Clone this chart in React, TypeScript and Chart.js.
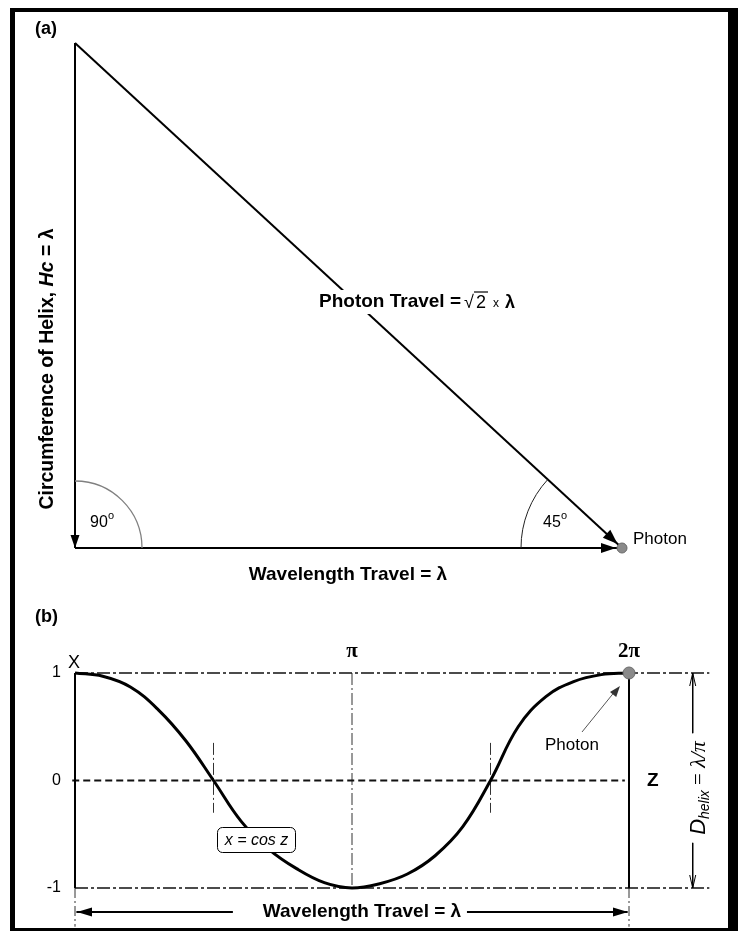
import React, { useEffect, useRef } from "react";
import { Chart, registerables } from "chart.js";

Chart.register(...registerables);

const CANVAS_W = 738;
const CANVAS_H = 931;
const SANS = '"Liberation Sans", Arial, sans-serif';
const SERIF = '"Liberation Serif", "Times New Roman", serif';

// ---------- Panel (a): right triangle, units of wavelength λ ----------
const sideX = [0, 0]; // circumference of helix (vertical side)
const sideY = [1, 0];
const baseX = [0, 1]; // wavelength travel
const baseY = [0, 0];
const hypX = [0, 1]; // photon travel (hypotenuse)
const hypY = [1, 0];
const photonAX = [1];
const photonAY = [0];

// ---------- Panel (b): x = cos z, z in units of π ----------
const zValues = [0, 0.1, 0.2, 0.3, 0.4, 0.5, 0.6, 0.7, 0.8, 0.9, 1, 1.1, 1.2, 1.3, 1.4, 1.5, 1.6, 1.7, 1.8, 1.9, 2];
const xValues = [
  1, 0.97, 0.87, 0.66, 0.37, 0, -0.38, -0.64, -0.82, -0.95, -1,
  -0.96, -0.87, -0.7, -0.43, 0, 0.5, 0.78, 0.92, 0.985, 1,
];
const yTickValues = [1, 0, -1];
const yTickLabels = ["1", "0", "-1"];
const zTickValues = [1, 2];
const zTickLabels = ["π", "2π"];
const photonBX = [2];
const photonBY = [1];

// reference / construction lines of panel (b)
const topRefX = [0, 2.29];
const topRefY = [1, 1];
const zeroRefX = [-0.01, 1.985];
const zeroRefY = [0, 0];
const botRefX = [0, 2.29];
const botRefY = [-1, -1];
const piLineX = [1, 1];
const piLineY = [1, -1];
const quarter1X = [0.5, 0.5];
const quarter2X = [1.5, 1.5];
const quarterY = [0.35, -0.3];
const leftWallX = [0, 0];
const rightWallX = [2, 2];
const wallY = [1, -1];
const extY = [-1, -1.36];
const dimX = [2.23, 2.23];
const dimTopY = [1, 0.44];
const dimBotY = [-0.58, -1];
const waveArrowY = [-1.223, -1.223];
const waveLeftX = [0.005, 0.57];
const waveRightX = [1.415, 1.995];

const pts = (xs: number[], ys: number[]) => xs.map((x, i) => ({ x, y: ys[i] }));

function lineDs(xs: number[], ys: number[], opts: any = {}) {
  return {
    data: pts(xs, ys),
    showLine: true,
    pointRadius: 0,
    borderColor: "#000",
    borderWidth: 2,
    clip: false as any,
    ...opts,
  };
}

function txt(
  ctx: CanvasRenderingContext2D,
  s: string,
  x: number,
  y: number,
  font: string,
  align: CanvasTextAlign = "left",
  baseline: CanvasTextBaseline = "middle",
  color = "#000"
) {
  ctx.save();
  ctx.font = font;
  ctx.textAlign = align;
  ctx.textBaseline = baseline;
  ctx.fillStyle = color;
  ctx.fillText(s, x, y);
  ctx.restore();
}

function arrowHead(
  ctx: CanvasRenderingContext2D,
  tipX: number,
  tipY: number,
  angle: number,
  len: number,
  half: number,
  color = "#000"
) {
  ctx.save();
  ctx.translate(tipX, tipY);
  ctx.rotate(angle);
  ctx.beginPath();
  ctx.moveTo(0, 0);
  ctx.lineTo(-len, -half);
  ctx.lineTo(-len, half);
  ctx.closePath();
  ctx.fillStyle = color;
  ctx.fill();
  ctx.restore();
}

function openArrow(
  ctx: CanvasRenderingContext2D,
  tipX: number,
  tipY: number,
  angle: number,
  len: number,
  half: number
) {
  ctx.save();
  ctx.translate(tipX, tipY);
  ctx.rotate(angle);
  ctx.beginPath();
  ctx.moveTo(-len, -half);
  ctx.lineTo(0, 0);
  ctx.lineTo(-len, half);
  ctx.strokeStyle = "#000";
  ctx.lineWidth = 1;
  ctx.stroke();
  ctx.restore();
}

const panelAPlugin = {
  id: "panelA",
  beforeDraw(chart: any) {
    const ctx = chart.ctx as CanvasRenderingContext2D;
    ctx.save();
    ctx.fillStyle = "#fff";
    ctx.fillRect(0, 0, chart.width, chart.height);
    ctx.restore();
  },
  afterDatasetsDraw(chart: any) {
    const ctx = chart.ctx as CanvasRenderingContext2D;
    const xs = chart.scales.x;
    const ys = chart.scales.y;
    const px = (v: number) => xs.getPixelForValue(v);
    const py = (v: number) => ys.getPixelForValue(v);
    const x0 = px(0), y0 = py(0), x1 = px(1), y1 = py(1);

    // angle arcs
    ctx.save();
    ctx.strokeStyle = "#808080";
    ctx.lineWidth = 1.3;
    ctx.beginPath();
    ctx.arc(x0, y0, 67, -Math.PI / 2, 0);
    ctx.stroke();
    const hypTilt = Math.atan2(y0 - y1, x1 - x0); // slope angle of hypotenuse
    ctx.strokeStyle = "#222";
    ctx.lineWidth = 1;
    ctx.beginPath();
    ctx.arc(x1, y0, 101, Math.PI, Math.PI + hypTilt);
    ctx.stroke();
    ctx.restore();

    // arrowheads
    arrowHead(ctx, x0, y0, Math.PI / 2, 13, 4.5);
    arrowHead(ctx, x1 - 6, y0, 0, 15, 5);
    arrowHead(ctx, x1 - 6 * Math.cos(hypTilt), y0 - 6 * Math.sin(hypTilt), hypTilt, 15, 5.5);

    // labels
    txt(ctx, "(a)", 35, 29, `bold 18px ${SANS}`);
    txt(ctx, "90", 90, 523, `16px ${SANS}`);
    txt(ctx, "o", 108, 516, `11px ${SANS}`);
    txt(ctx, "45", 543, 523, `16px ${SANS}`);
    txt(ctx, "o", 561, 516, `11px ${SANS}`);
    txt(ctx, "Photon", 633, 539, `17px ${SANS}`);
    txt(ctx, "Wavelength Travel = λ", 348, 575, `bold 19px ${SANS}`, "center");

    // photon travel label (white-backed, interrupting the hypotenuse)
    ctx.save();
    const ly = 302;
    ctx.font = `bold 19px ${SANS}`;
    const part1 = "Photon Travel =";
    const w1 = ctx.measureText(part1).width;
    const startX = 461 - w1;
    ctx.fillStyle = "#fff";
    ctx.fillRect(startX - 3, ly - 12, 461 - startX + 60, 24);
    txt(ctx, part1, startX, ly, `bold 19px ${SANS}`);
    txt(ctx, "√", 464, ly + 1, `18px ${SANS}`);
    txt(ctx, "2", 476, ly + 1, `18px ${SANS}`);
    ctx.strokeStyle = "#000";
    ctx.lineWidth = 1.2;
    ctx.beginPath();
    ctx.moveTo(474, ly - 10);
    ctx.lineTo(488, ly - 10);
    ctx.stroke();
    txt(ctx, "x", 493, ly + 2, `12px ${SANS}`);
    txt(ctx, "λ", 505, ly + 1, `bold 18px ${SANS}`);
    ctx.restore();

    // y label (rotated)
    ctx.save();
    ctx.translate(48, 369);
    ctx.rotate(-Math.PI / 2);
    const fB = `bold 19.5px ${SANS}`;
    const fBI = `italic bold 19.5px ${SANS}`;
    const parts: [string, string][] = [
      ["Circumference of Helix, ", fB],
      ["Hc", fBI],
      [" = λ", fB],
    ];
    let total = 0;
    parts.forEach(([s, f]) => {
      ctx.font = f;
      total += ctx.measureText(s).width;
    });
    let cx = -total / 2;
    parts.forEach(([s, f]) => {
      ctx.font = f;
      ctx.textBaseline = "middle";
      ctx.fillStyle = "#000";
      ctx.fillText(s, cx, 0);
      cx += ctx.measureText(s).width;
    });
    ctx.restore();
  },
  afterDraw(chart: any) {
    const ctx = chart.ctx as CanvasRenderingContext2D;
    ctx.save();
    ctx.fillStyle = "#000";
    ctx.fillRect(10, 8, 5, 923);
    ctx.fillRect(10, 8, 728, 4);
    ctx.fillRect(728, 8, 10, 923);
    ctx.fillRect(10, 928, 728, 3);
    ctx.restore();
  },
};

const panelBPlugin = {
  id: "panelB",
  afterDatasetsDraw(chart: any) {
    const ctx = chart.ctx as CanvasRenderingContext2D;
    const xs = chart.scales.x;
    const ys = chart.scales.y;
    const px = (v: number) => xs.getPixelForValue(v);
    const py = (v: number) => ys.getPixelForValue(v);

    txt(ctx, "(b)", 35, 617, `bold 18px ${SANS}`);
    txt(ctx, "X", px(0) - 1, py(1) - 5, `18px ${SANS}`, "center", "alphabetic");
    yTickValues.forEach((v, i) => txt(ctx, yTickLabels[i], 61, py(v), `16px ${SANS}`, "right"));
    zTickValues.forEach((v, i) => txt(ctx, zTickLabels[i], px(v), 652, `bold 21px ${SERIF}`, "center"));
    txt(ctx, "Z", px(2) + 18, py(0), `bold 19px ${SANS}`);

    // photon callout
    txt(ctx, "Photon", 545, 745, `17px ${SANS}`);
    ctx.save();
    ctx.strokeStyle = "#555";
    ctx.lineWidth = 1;
    ctx.beginPath();
    ctx.moveTo(582, 732);
    ctx.lineTo(616, 690);
    ctx.stroke();
    ctx.restore();
    arrowHead(ctx, px(2) - 9, py(1) + 13, Math.atan2(690 - 732, 616 - 582), 11, 4, "#333");

    // x = cos z box
    ctx.save();
    ctx.beginPath();
    (ctx as any).roundRect(217.5, 827.5, 78, 25, 5);
    ctx.fillStyle = "#fff";
    ctx.fill();
    ctx.strokeStyle = "#000";
    ctx.lineWidth = 1;
    ctx.stroke();
    ctx.restore();
    txt(ctx, "x = cos z", 256.5, 840.5, `italic 16px ${SANS}`, "center");

    // wavelength arrows
    const wy = py(waveArrowY[0]);
    arrowHead(ctx, px(0) + 2, wy, Math.PI, 15, 4.5);
    arrowHead(ctx, px(2) - 1, wy, 0, 15, 4.5);
    txt(ctx, "Wavelength Travel = λ", 362, wy, `bold 19px ${SANS}`, "center");

    // dimension D_helix
    const dx = px(dimX[0]);
    openArrow(ctx, dx, py(1), -Math.PI / 2, 13, 3);
    openArrow(ctx, dx, py(-1), Math.PI / 2, 13, 3);
    ctx.save();
    ctx.translate(dx + 5, 788);
    ctx.rotate(-Math.PI / 2);
    ctx.fillStyle = "#000";
    ctx.textBaseline = "alphabetic";
    const segs: [string, string, number][] = [
      ["D", `italic 22px ${SANS}`, 0],
      ["helix", `italic 14px ${SANS}`, 4],
      [" = ", `21px ${SERIF}`, 0],
      ["λ/π", `italic 22px ${SERIF}`, 0],
    ];
    let tw = 0;
    segs.forEach(([s, f]) => {
      ctx.font = f;
      tw += ctx.measureText(s).width;
    });
    let sx = -tw / 2;
    segs.forEach(([s, f, dy]) => {
      ctx.font = f;
      ctx.fillText(s, sx, 7 + dy);
      sx += ctx.measureText(s).width;
    });
    ctx.restore();
  },
};

const DASHDOT = [13, 3, 3, 3];

export default function App() {
  const aRef = useRef<HTMLCanvasElement>(null);
  const bRef = useRef<HTMLCanvasElement>(null);

  useEffect(() => {
    const common = (padding: any, xmin: number, xmax: number, ymin: number, ymax: number) => ({
      responsive: false,
      animation: false as const,
      events: [] as any,
      layout: { padding },
      scales: {
        x: { type: "linear" as const, min: xmin, max: xmax, display: false },
        y: { type: "linear" as const, min: ymin, max: ymax, display: false },
      },
      plugins: { legend: { display: false }, tooltip: { enabled: false } },
    });

    const chartA = new Chart(aRef.current!, {
      type: "scatter",
      data: {
        datasets: [
          {
            data: pts(photonAX, photonAY),
            pointRadius: 5,
            pointBackgroundColor: "#8a8a8a",
            pointBorderColor: "#6a6a6a",
            pointBorderWidth: 1,
            clip: false as any,
            order: 0,
          },
          lineDs(sideX, sideY, { order: 1 }),
          lineDs(baseX, baseY, { order: 1 }),
          lineDs(hypX, hypY, { order: 1 }),
        ] as any,
      },
      options: common({ left: 75, top: 43, right: 116, bottom: 383 }, 0, 1, 0, 1) as any,
      plugins: [panelAPlugin],
    });

    const chartB = new Chart(bRef.current!, {
      type: "scatter",
      data: {
        datasets: [
          {
            data: pts(photonBX, photonBY),
            pointRadius: 6,
            pointBackgroundColor: "#8a8a8a",
            pointBorderColor: "#6a6a6a",
            pointBorderWidth: 1,
            clip: false as any,
            order: 0,
          },
          lineDs(zValues, xValues, { borderWidth: 3, tension: 0.4, order: 1 }),
          lineDs(leftWallX, wallY, { order: 2 }),
          lineDs(rightWallX, wallY, { order: 2 }),
          lineDs(topRefX, topRefY, { borderWidth: 1.6, borderDash: DASHDOT, borderColor: "#111", order: 3 }),
          lineDs(botRefX, botRefY, { borderWidth: 1.6, borderDash: DASHDOT, borderColor: "#111", order: 3 }),
          lineDs(zeroRefX, zeroRefY, { borderWidth: 1.8, borderDash: [7, 4], borderColor: "#111", order: 3 }),
          lineDs(piLineX, piLineY, { borderWidth: 1, borderDash: [12, 3, 2, 3], borderColor: "#333", order: 3 }),
          lineDs(quarter1X, quarterY, { borderWidth: 1, borderDash: [12, 3, 2, 3], borderColor: "#333", order: 3 }),
          lineDs(quarter2X, quarterY, { borderWidth: 1, borderDash: [12, 3, 2, 3], borderColor: "#333", order: 3 }),
          lineDs(leftWallX, extY, { borderWidth: 1, borderDash: [10, 3, 2, 3], borderColor: "#333", order: 3 }),
          lineDs(rightWallX, extY, { borderWidth: 1, borderDash: [10, 3, 2, 3], borderColor: "#333", order: 3 }),
          lineDs(dimX, dimTopY, { borderWidth: 1, order: 3 }),
          lineDs(dimX, dimBotY, { borderWidth: 1, order: 3 }),
          lineDs(waveLeftX, waveArrowY, { order: 3 }),
          lineDs(waveRightX, waveArrowY, { order: 3 }),
        ] as any,
      },
      options: common({ left: 75, top: 673, right: 109, bottom: 43 }, 0, 2, -1, 1) as any,
      plugins: [panelBPlugin],
    });

    return () => {
      chartA.destroy();
      chartB.destroy();
    };
  }, []);

  const cstyle: React.CSSProperties = {
    position: "absolute",
    left: 0,
    top: 0,
    width: CANVAS_W,
    height: CANVAS_H,
  };

  return (
    <div style={{ position: "absolute", left: 0, top: 0, width: CANVAS_W, height: CANVAS_H, background: "#fff" }}>
      <canvas ref={aRef} width={CANVAS_W} height={CANVAS_H} style={cstyle} />
      <canvas ref={bRef} width={CANVAS_W} height={CANVAS_H} style={cstyle} />
    </div>
  );
}
